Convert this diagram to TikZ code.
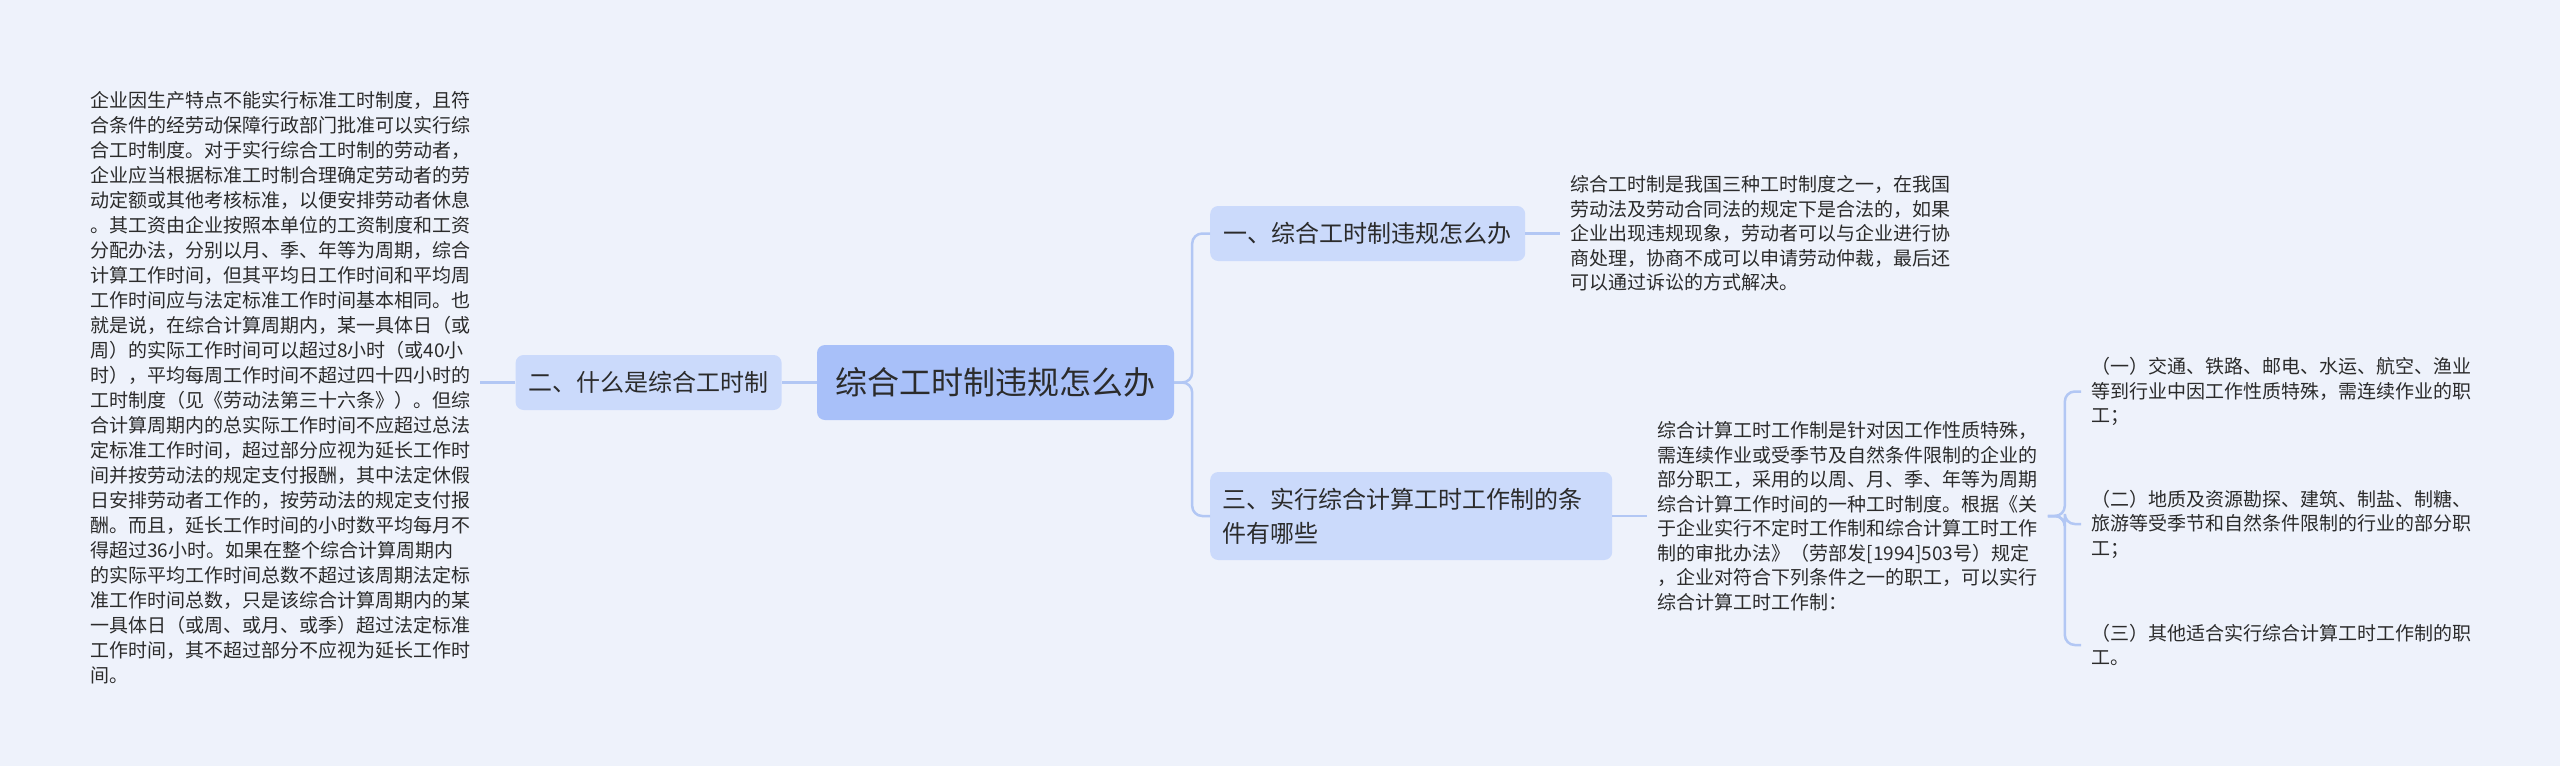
\documentclass[tikz,border=0pt]{standalone}
\usepackage{fontspec}
\setmainfont{Noto Sans CJK SC}
\usepackage{xcolor}
\usetikzlibrary{positioning}

\definecolor{bgblue}{HTML}{EEF2FB}
\definecolor{rootblue}{HTML}{A8C0F9}
\definecolor{subblue}{HTML}{CBDAFB}
\definecolor{linkblue}{HTML}{B2C7F4}
\definecolor{textgray}{HTML}{2B2B2B}

\begin{document}
\begin{tikzpicture}[x=1pt, y=-1pt, node distance=35pt,
        every node/.style={text=textgray},
        rootbox/.style={fill=rootblue, rounded corners=8pt, minimum width=357pt, minimum height=75pt, font=\fontsize{32}{40}\selectfont},
        subbox/.style={fill=subblue, rounded corners=8pt, inner xsep=13pt, minimum height=55pt, font=\fontsize{24}{34}\selectfont},
        note/.style={inner xsep=10pt, inner ysep=2pt, align=left, font=\fontsize{19}{24.5}\selectfont},
        link/.style={draw=linkblue, line width=2.5pt, rounded corners=10pt}]

        \fill[bgblue] (0,0) rectangle (2560,766);
        \useasboundingbox (0,0) rectangle (2560,766);

        \node[rootbox] (root) at (995.5,382.5) {综合工时制违规怎么办};

        \node[subbox, minimum width=266pt] (what) [left=of root] {二、什么是综合工时制};

        \node[note, font=\fontsize{19}{25}\selectfont, yshift=-5pt] (whatnote) [left=of what] {企业因生产特点不能实行标准工时制度，且符\\合条件的经劳动保障行政部门批准可以实行综\\合工时制度。对于实行综合工时制的劳动者，\\企业应当根据标准工时制合理确定劳动者的劳\\动定额或其他考核标准，以便安排劳动者休息\\。其工资由企业按照本单位的工资制度和工资\\分配办法，分别以月、季、年等为周期，综合\\计算工作时间，但其平均日工作时间和平均周\\工作时间应与法定标准工作时间基本相同。也\\就是说，在综合计算周期内，某一具体日（或\\周）的实际工作时间可以超过8小时（或40小\\时），平均每周工作时间不超过四十四小时的\\工时制度（见《劳动法第三十六条》）。但综\\合计算周期内的总实际工作时间不应超过总法\\定标准工作时间，超过部分应视为延长工作时\\间并按劳动法的规定支付报酬，其中法定休假\\日安排劳动者工作的，按劳动法的规定支付报\\酬。而且，延长工作时间的小时数平均每月不\\得超过36小时。如果在整个综合计算周期内\\的实际平均工作时间总数不超过该周期法定标\\准工作时间总数，只是该综合计算周期内的某\\一具体日（或周、或月、或季）超过法定标准\\工作时间，其不超过部分不应视为延长工作时\\间。};

        \node[subbox, minimum width=315pt, anchor=west] (viol) at (1210,233.5) {一、综合工时制违规怎么办};

        \node[note] (violnote) [right=of viol] {综合工时制是我国三种工时制度之一，在我国\\劳动法及劳动合同法的规定下是合法的，如果\\企业出现违规现象，劳动者可以与企业进行协\\商处理，协商不成可以申请劳动仲裁，最后还\\可以通过诉讼的方式解决。};

        \node[subbox, text width=378pt, inner xsep=12pt, minimum height=88pt, align=left, anchor=west] (cond) at (1210,516) {三、实行综合计算工时工作制的条\\件有哪些};

        \node[note] (condnote) [right=of cond] {综合计算工时工作制是针对因工作性质特殊，\\需连续作业或受季节及自然条件限制的企业的\\部分职工，采用的以周、月、季、年等为周期\\综合计算工作时间的一种工时制度。根据《关\\于企业实行不定时工作制和综合计算工时工作\\制的审批办法》（劳部发[1994]503号）规定\\，企业对符合下列条件之一的职工，可以实行\\综合计算工时工作制：};

        \node[note, anchor=west] (item1) at (2081,391.5) {（一）交通、铁路、邮电、水运、航空、渔业\\等到行业中因工作性质特殊，需连续作业的职\\工；};

        \node[note, anchor=west] (item2) at (2081,524) {（二）地质及资源勘探、建筑、制盐、制糖、\\旅游等受季节和自然条件限制的行业的部分职\\工；};

        \node[note, anchor=west] (item3) at (2081,645) {（三）其他适合实行综合计算工时工作制的职\\工。};

        \draw[link] (root) -- (what);
        \draw[link] (what.west) -- (what.west -| whatnote.east);
        \draw[link] (root.east) -- ++(18,0) |- (viol.west);
        \draw[link] (root.east) -- ++(18,0) |- (cond.west);
        \draw[link] (viol) -- (violnote);
        \draw[link] (cond) -- (condnote);
        \draw[link] (condnote.east) -- ++(17,0) |- (item1.west);
        \draw[link] (condnote.east) -- ++(17,0) |- (item2.west);
        \draw[link] (condnote.east) -- ++(17,0) |- (item3.west);

    \end{tikzpicture}
\end{document}
